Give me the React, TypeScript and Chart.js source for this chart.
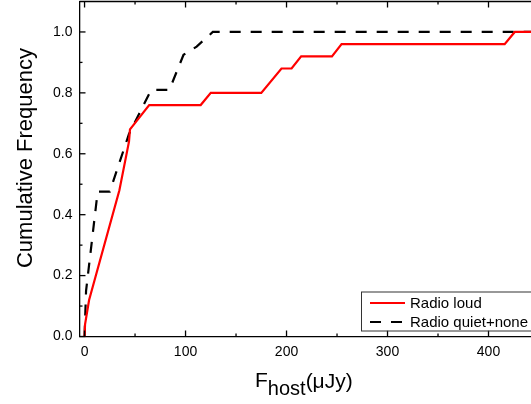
import React, { useEffect, useRef } from "react";
import { Chart, registerables } from "chart.js";

Chart.register(...registerables);

// ---- data ----
const seriesNames = ["Radio loud", "Radio quiet+none"];
const loudX = [0, 0.5, 4.5, 34.5, 44, 45, 64, 115, 125, 175, 195, 205, 214.5, 245, 254.5, 416, 426, 450];
const loudY = [0, 0.04, 0.12, 0.48, 0.64, 0.68, 0.76, 0.76, 0.8, 0.8, 0.88, 0.88, 0.92, 0.92, 0.96, 0.96, 1.0, 1.0];
const quietX = [0, 1.5, 13, 25, 44, 66, 84, 98, 111, 127, 450];
const quietY = [0, 0.15, 0.476, 0.476, 0.665, 0.81, 0.81, 0.925, 0.952, 1.0, 1.0];

const xTicks = [0, 100, 200, 300, 400];
const xMinorTicks = [50, 150, 250, 350, 450];
const yTicks = [0, 0.2, 0.4, 0.6, 0.8, 1.0];
const yMinorTicks = [0.1, 0.3, 0.5, 0.7, 0.9];
const yTitle = "Cumulative Frequency";
const xTitleMain = "F";
const xTitleSub = "host";
const xTitleUnit = "(μJy)";

const FONT = '"Liberation Sans", Arial, Helvetica, sans-serif';

const decorPlugin = {
  id: "decor",
  afterDraw(chart: any) {
    const { ctx, chartArea: a } = chart;
    const xs = chart.scales.x;
    const ys = chart.scales.y;
    ctx.save();
    ctx.strokeStyle = "#000";
    ctx.lineWidth = 1.3;
    const seg = (x1: number, y1: number, x2: number, y2: number) => {
      ctx.beginPath();
      ctx.moveTo(x1, y1);
      ctx.lineTo(x2, y2);
      ctx.stroke();
    };
    // frame (top and right)
    seg(a.left, a.top, a.right, a.top);
    seg(a.right, a.top, a.right, a.bottom);
    // x ticks (inside, bottom and top)
    const xt = (v: number, len: number) => {
      const p = xs.getPixelForValue(v);
      seg(p, a.bottom, p, a.bottom - len);
      seg(p, a.top, p, a.top + len);
    };
    xTicks.forEach((v) => xt(v, 6));
    xMinorTicks.forEach((v) => xt(v, 3));
    const yt = (v: number, len: number) => {
      const p = ys.getPixelForValue(v);
      seg(a.left, p, a.left + len, p);
      seg(a.right, p, a.right - len, p);
    };
    yTicks.forEach((v) => yt(v, 6));
    yMinorTicks.forEach((v) => yt(v, 3));

    // legend
    const lx = 361, ly = 291.5, lw = 176, lh = 39;
    ctx.fillStyle = "#fff";
    ctx.fillRect(lx, ly, lw, lh);
    ctx.strokeStyle = "#333";
    ctx.lineWidth = 1;
    ctx.strokeRect(lx + 0.5, ly + 0.5, lw, lh);
    const ds = chart.data.datasets;
    const rows = [303, 322];
    ds.forEach((d: any, i: number) => {
      ctx.strokeStyle = d.borderColor;
      ctx.lineWidth = d.borderWidth;
      ctx.setLineDash(d.borderDash || []);
      ctx.beginPath();
      ctx.moveTo(370, rows[i]);
      ctx.lineTo(405, rows[i]);
      ctx.stroke();
      ctx.setLineDash([]);
      ctx.fillStyle = "#000";
      ctx.font = `15px ${FONT}`;
      ctx.textBaseline = "middle";
      ctx.textAlign = "left";
      ctx.fillText(d.label, 410, rows[i] + 0.5);
    });

    // y title
    ctx.save();
    ctx.translate(26, 158);
    ctx.rotate(-Math.PI / 2);
    ctx.font = `22px ${FONT}`;
    ctx.fillStyle = "#000";
    ctx.textAlign = "center";
    ctx.textBaseline = "middle";
    ctx.fillText(yTitle, 0, 0);
    ctx.restore();

    // x title with subscript
    ctx.fillStyle = "#000";
    ctx.textAlign = "left";
    ctx.textBaseline = "alphabetic";
    let cx = 255;
    ctx.font = `21px ${FONT}`;
    ctx.fillText(xTitleMain, cx, 387);
    cx += ctx.measureText(xTitleMain).width;
    ctx.font = `20px ${FONT}`;
    ctx.fillText(xTitleSub, cx, 395);
    cx += ctx.measureText(xTitleSub).width;
    ctx.font = `21px ${FONT}`;
    ctx.fillText(xTitleUnit, cx, 388);
    ctx.restore();
  },
};

export default function App() {
  const ref = useRef<HTMLCanvasElement | null>(null);
  useEffect(() => {
    if (!ref.current) return;
    const chart = new Chart(ref.current, {
      type: "line",
      data: {
        datasets: [
          {
            label: seriesNames[0],
            data: loudX.map((x, i) => ({ x, y: loudY[i] })),
            borderColor: "#ff0000",
            borderWidth: 2.2,
            pointRadius: 0,
            tension: 0,
            fill: false,
          },
          {
            label: seriesNames[1],
            data: quietX.map((x, i) => ({ x, y: quietY[i] })),
            borderColor: "#000000",
            borderWidth: 2.2,
            borderDash: [11, 10],
            pointRadius: 0,
            tension: 0,
            fill: false,
          },
        ],
      },
      options: {
        animation: false,
        responsive: false,
        devicePixelRatio: 1,
        layout: { padding: { left: 0, top: 1.5, right: 61, bottom: 0 } },
        plugins: { legend: { display: false }, tooltip: { enabled: false } },
        scales: {
          x: {
            type: "linear",
            min: -5,
            max: 450,
            grid: { display: false, drawTicks: false, tickLength: 0 },
            border: { display: true, color: "#000", width: 1.3 },
            ticks: { font: { family: FONT, size: 14 }, color: "#000", padding: 7 },
            afterBuildTicks: (s: any) => {
              s.ticks = xTicks.map((v) => ({ value: v }));
            },
            afterFit: (s: any) => {
              s.height = 67.5;
              s.paddingLeft = 0;
              s.paddingRight = 0;
            },
          },
          y: {
            type: "linear",
            min: 0,
            max: 1.1,
            grid: { display: false, drawTicks: false, tickLength: 0 },
            border: { display: true, color: "#000", width: 1.3 },
            ticks: {
              font: { family: FONT, size: 14 },
              color: "#000",
              padding: 7,
              callback: (v: any) => Number(v).toFixed(1),
            },
            afterBuildTicks: (s: any) => {
              s.ticks = yTicks.map((v) => ({ value: v }));
            },
            afterFit: (s: any) => {
              s.width = 79.5;
              s.paddingTop = 0;
              s.paddingBottom = 0;
            },
          },
        },
      },
      plugins: [decorPlugin],
    });
    return () => chart.destroy();
  }, []);
  return (
    <div
      style={{
        position: "fixed",
        left: 0,
        top: 0,
        width: 531,
        height: 404,
        overflow: "hidden",
        background: "#fff",
      }}
    >
      <canvas ref={ref} width={600} height={404} style={{ display: "block", width: 600, height: 404 }} />
    </div>
  );
}
